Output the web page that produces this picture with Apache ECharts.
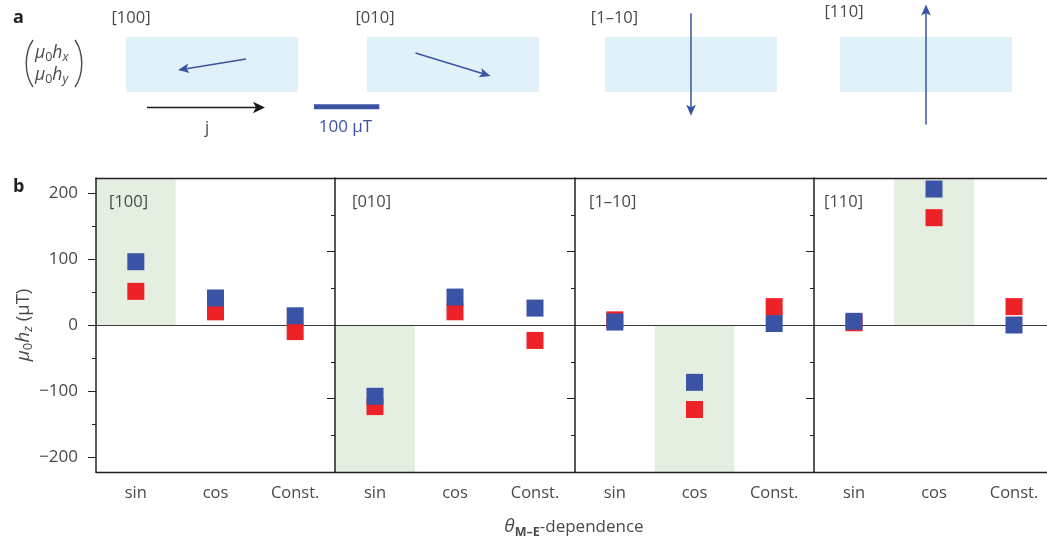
<!DOCTYPE html>
<html><head><meta charset="utf-8">
<script src="https://cdn.jsdelivr.net/npm/echarts@6/dist/echarts.min.js"></script>
<style>html,body{margin:0;padding:0;background:#fff}#c{width:1047px;height:540px}</style>
</head><body><div id="c"></div>
<script>
// ---------------- data ----------------
const categories = ['sin', 'cos', 'Const.'];
const directions = ['[100]', '[010]', '[1–10]', '[110]'];
// panel a: in-plane field vector (μ0hx, μ0hy) in μT
const hx = [-104, 115, 0, 0];
const hy = [-17, -35, -157, 184];
const scaleBarUT = 100;
// panel b: μ0hz (μT) per θ(M–E) dependence
const blue100 = [96, 41, 14];
const red100 = [51, 20, -10];
const blue010 = [-97, 38, 23];
const red010 = [-111, 18, -21];
const blue1m10 = [4, -78, 2];
const red1m10 = [7, -115, 25];
const blue110 = [5, 185, 0];
const red110 = [3, 146, 25];
const shadedCategory = ['sin', 'sin', 'cos', 'cos'];
const shadedSign = [1, -1, -1, 1];
const yTickLabels = [-200, -100, 0, 100, 200];
const yMinorTicks = [-150, -50, 50, 150];
const yMajorTicksInner = [-100, 100];

// ---------------- styling / layout ----------------
const FONT = '"Open Sans", "DejaVu Sans", sans-serif';
const FS = 16.5;
const TXT = '#4a4a4a';
const AX = '#231f20';
const BLUE = '#3a53a4';
const RED = '#ed2227';
const LIGHTBLUE = '#e1f1f9';
const GREEN = '#e4efe2';
const PX_PER_UT = 0.653;
const rectLefts = [126, 367, 605, 840];
const RECT_TOP = 37, RECT_W = 172, RECT_H = 55;
const panelLefts = [96, 335, 575, 814];
const panelWidths = [239, 240, 239, 240];
const B_TOP = 178, B_H = 294;
const yHalf = [223, 200, 200, 200];
const blues = [blue100, blue010, blue1m10, blue110];
const reds = [red100, red010, red1m10, red110];

const grid = [], xAxis = [], yAxis = [], series = [];

function arrowRender(params, api) {
  const vx = api.value(0), vy = api.value(1);
  const p0 = api.coord([-vx / 2, -vy / 2]);
  const p1 = api.coord([vx / 2, vy / 2]);
  const dx = p1[0] - p0[0], dy = p1[1] - p0[1];
  const L = Math.hypot(dx, dy) || 1;
  const ux = dx / L, uy = dy / L, nx = -uy, ny = ux;
  const headLen = 11, headW = 4.8, notch = 2.5;
  const bx = p1[0] - ux * headLen, by = p1[1] - uy * headLen;
  const mx = p1[0] - ux * (headLen - notch), my = p1[1] - uy * (headLen - notch);
  return {
    type: 'group',
    children: [
      { type: 'line', shape: { x1: p0[0], y1: p0[1], x2: mx, y2: my },
        style: { stroke: BLUE, lineWidth: 1.5 } },
      { type: 'polygon', shape: { points: [p1, [bx + nx * headW, by + ny * headW], [mx, my], [bx - nx * headW, by - ny * headW]] },
        style: { fill: BLUE } }
    ]
  };
}

// panel a grids
for (let i = 0; i < 4; i++) {
  grid.push({ left: rectLefts[i], top: RECT_TOP, width: RECT_W, height: RECT_H,
    show: true, backgroundColor: LIGHTBLUE, borderWidth: 0, outerBoundsMode: 'none', containLabel: false });
  const xh = RECT_W / 2 / PX_PER_UT, yh = RECT_H / 2 / PX_PER_UT;
  xAxis.push({ gridIndex: i, type: 'value', min: -xh, max: xh, show: false });
  yAxis.push({ gridIndex: i, type: 'value', min: -yh, max: yh, show: false });
  series.push({ type: 'custom', xAxisIndex: i, yAxisIndex: i, data: [[hx[i], hy[i]]],
    renderItem: arrowRender, clip: false, silent: true, z: 5 });
}
// scale bar (length from the same μT scale)
series.push({ type: 'custom', xAxisIndex: 0, yAxisIndex: 0, data: [[scaleBarUT, 0]], clip: false, silent: true, z: 5,
  renderItem: function (params, api) {
    const len = api.size([api.value(0), 0])[0];
    return { type: 'rect', shape: { x: 314, y: 104.3, width: len, height: 5 }, style: { fill: BLUE } };
  } });

// panel b grids
for (let k = 0; k < 4; k++) {
  const gi = 4 + k;
  grid.push({ left: panelLefts[k], top: B_TOP, width: panelWidths[k], height: B_H,
    outerBoundsMode: 'none', containLabel: false });
  const xBase = xAxis.length;
  xAxis.push({ gridIndex: gi, type: 'category', data: categories, position: 'bottom', boundaryGap: true, z: 10,
    axisLine: { onZero: false, lineStyle: { color: AX, width: 1.4 } },
    axisTick: { alignWithLabel: true, length: 8, lineStyle: { color: AX, width: 1 } },
    axisLabel: { margin: 13, fontSize: FS, color: TXT, fontFamily: FONT },
    splitLine: { show: false } });
  xAxis.push({ gridIndex: gi, type: 'category', data: categories, position: 'bottom', boundaryGap: true, z: 10,
    axisLine: { show: false, onZero: false },
    axisTick: { alignWithLabel: false, length: 4, lineStyle: { color: AX, width: 1 } },
    axisLabel: { show: false }, splitLine: { show: false } });
  xAxis.push({ gridIndex: gi, type: 'category', data: categories, position: 'top', boundaryGap: true, z: 10,
    axisLine: { onZero: false, lineStyle: { color: AX, width: 1.4 } },
    axisTick: { show: false }, axisLabel: { show: false }, splitLine: { show: false } });
  xAxis.push({ gridIndex: gi, type: 'category', data: categories, position: 'bottom', boundaryGap: true, z: 2,
    axisLine: { onZero: true, lineStyle: { color: '#3a3a3a', width: 1 } },
    axisTick: { show: false }, axisLabel: { show: false }, splitLine: { show: false } });

  const yMain = yAxis.length;
  const mainY = { gridIndex: gi, type: 'value', min: -yHalf[k], max: yHalf[k], position: 'left', z: 10,
    axisLine: { show: true, onZero: false, lineStyle: { color: AX, width: 1.5 } },
    axisTick: { show: true, length: 8, customValues: k === 0 ? yTickLabels : yMajorTicksInner, lineStyle: { color: AX, width: 1 } },
    axisLabel: k === 0 ? { show: true, customValues: yTickLabels, margin: 18, fontSize: FS + 0.5, color: TXT, fontFamily: FONT,
      formatter: v => String(v).replace('-', '\u2212') } : { show: false },
    splitLine: { show: false } };
  if (k === 0) {
    mainY.name = '{m|\u03bc}{s|0}{m|h}{si|z}{n| (\u03bcT)}';
    mainY.nameLocation = 'middle';
    mainY.nameGap = 61;
    mainY.nameTextStyle = { fontSize: 18, fontFamily: FONT, color: TXT, lineHeight: 22,
      rich: {
        m: { fontStyle: 'italic', fontSize: 19, lineHeight: 22, fontFamily: FONT, color: TXT },
        n: { fontSize: 18.5, lineHeight: 22, fontFamily: FONT, color: TXT },
        s: { fontSize: 13, lineHeight: 11, verticalAlign: 'bottom', fontFamily: FONT, color: TXT },
        si: { fontSize: 13, lineHeight: 11, verticalAlign: 'bottom', fontStyle: 'italic', fontFamily: FONT, color: TXT }
      } };
  }
  yAxis.push(mainY);
  yAxis.push({ gridIndex: gi, type: 'value', min: -yHalf[k], max: yHalf[k], position: 'left', z: 10,
    axisLine: { show: false, onZero: false },
    axisTick: { show: true, length: 4, customValues: yMinorTicks, lineStyle: { color: AX, width: 1 } },
    axisLabel: { show: false }, splitLine: { show: false } });

  series.push({ type: 'bar', xAxisIndex: xBase, yAxisIndex: yMain, silent: true, z: 1,
    data: categories.map(c => c === shadedCategory[k] ? shadedSign[k] * yHalf[k] : '-'),
    barWidth: '100%', itemStyle: { color: GREEN } });
  series.push({ type: 'scatter', xAxisIndex: xBase, yAxisIndex: yMain, silent: true, z: 3,
    data: reds[k].map((v, i) => [categories[i], v]), symbol: 'rect', symbolSize: 17,
    itemStyle: { color: RED, opacity: 1 } });
  series.push({ type: 'scatter', xAxisIndex: xBase, yAxisIndex: yMain, silent: true, z: 4,
    data: blues[k].map((v, i) => [categories[i], v]), symbol: 'rect', symbolSize: 17,
    itemStyle: { color: BLUE, opacity: 1 } });
}

function txt(x, y, text, extra) {
  return { type: 'text', x: x, y: y, silent: true, z: 20,
    style: Object.assign({ text: text, fontSize: FS, fontFamily: FONT, fill: TXT, align: 'left', verticalAlign: 'middle' }, extra || {}) };
}
const richSub = {
  m: { fontStyle: 'italic', fontSize: 17.5, lineHeight: 22, fontFamily: FONT, fill: TXT },
  s: { fontSize: 12.5, lineHeight: 11, verticalAlign: 'bottom', fontFamily: FONT, fill: TXT },
  si: { fontSize: 12.5, lineHeight: 11, verticalAlign: 'bottom', fontStyle: 'italic', fontFamily: FONT, fill: TXT }
};

const graphic = [
  txt(13, 18, 'a', { fontWeight: 'bold', fontSize: 18, fill: AX }),
  txt(13, 187, 'b', { fontWeight: 'bold', fontSize: 18, fill: AX }),
  txt(131, 18, directions[0], { align: 'center' }),
  txt(375, 18, directions[1], { align: 'center' }),
  txt(614.5, 18.3, directions[2], { align: 'center' }),
  txt(844, 12.7, directions[3], { align: 'center' }),
  txt(109, 202, directions[0]),
  txt(352, 202, directions[1]),
  txt(589, 202, directions[2]),
  txt(824, 202, directions[3]),
  txt(35, 53, '{m|\u03bc}{s|0}{m|h}{si|x}', { rich: richSub }),
  txt(35, 75, '{m|\u03bc}{s|0}{m|h}{si|y}', { rich: richSub }),
  { type: 'bezierCurve', silent: true, shape: { x1: 33, y1: 40, cpx1: 24, cpy1: 53, cpx2: 24, cpy2: 74, x2: 33, y2: 87 },
    style: { stroke: TXT, lineWidth: 1.4, fill: null } },
  { type: 'bezierCurve', silent: true, shape: { x1: 75, y1: 40, cpx1: 84, cpy1: 53, cpx2: 84, cpy2: 74, x2: 75, y2: 87 },
    style: { stroke: TXT, lineWidth: 1.4, fill: null } },
  { type: 'line', silent: true, shape: { x1: 147, y1: 107.5, x2: 257, y2: 107.5 }, style: { stroke: '#1a1a1a', lineWidth: 1.3 } },
  { type: 'polygon', silent: true, shape: { points: [[265, 107.5], [253, 101.8], [256, 107.5], [253, 113.2]] }, style: { fill: '#1a1a1a' } },
  txt(207, 128, 'j', { align: 'center' }),
  txt(345.5, 126.7, '100 \u03bcT', { align: 'center', fill: BLUE, fontSize: 17 }),
  txt(574, 527, '{t|\u03b8}{b|M\u2013E}-dependence', { align: 'center', fontSize: 17, rich: {
    t: { fontStyle: 'italic', fontSize: 19, lineHeight: 24, fontFamily: FONT, fill: TXT },
    b: { fontWeight: 'bold', fontSize: 12.5, lineHeight: 12, verticalAlign: 'bottom', fontFamily: FONT, fill: TXT }
  } })
];

const chart = echarts.init(document.getElementById('c'), null, { renderer: 'canvas' });
chart.setOption({
  animation: false,
  backgroundColor: '#ffffff',
  textStyle: { fontFamily: FONT },
  grid: grid, xAxis: xAxis, yAxis: yAxis, series: series, graphic: graphic
});
</script></body></html>
